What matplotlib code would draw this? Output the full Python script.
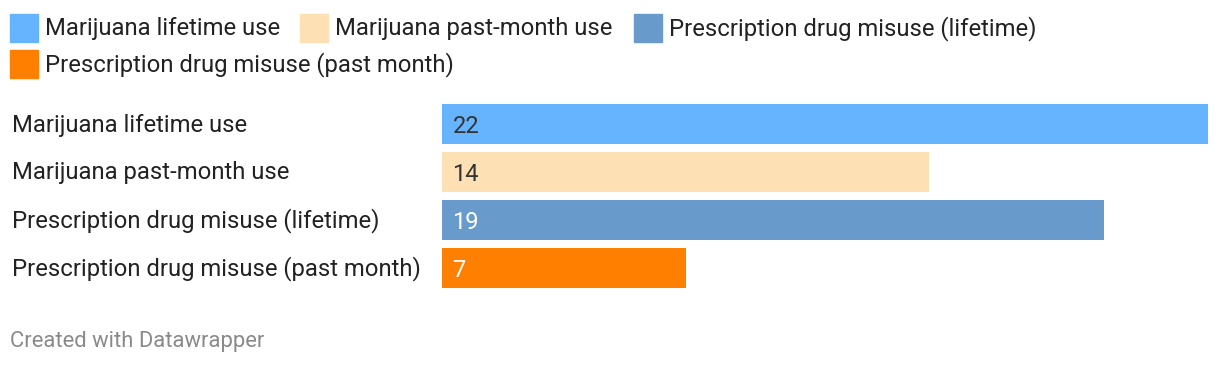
import matplotlib

matplotlib.use("Agg")
import matplotlib.pyplot as plt
from matplotlib.patches import Rectangle

plt.rcParams["font.family"] = ["Roboto", "DejaVu Sans"]

categories = [
    "Marijuana lifetime use",
    "Marijuana past-month use",
    "Prescription drug misuse (lifetime)",
    "Prescription drug misuse (past month)",
]
values = [22, 14, 19, 7]
colors = ["#66b4fe", "#fde1b4", "#689bcc", "#ff7f00"]
label_colors = ["#333333", "#333333", "#ffffff", "#ffffff"]

W, H = 1220, 366
fig = plt.figure(figsize=(W / 100, H / 100), dpi=100)
fig.patch.set_facecolor("white")


def fx(px):
    return px / W


def fy(py):
    return 1 - py / H


# bar axes: x 442..1208, y 104..288
ax = fig.add_axes([fx(442), fy(288), fx(1208 - 442), (288 - 104) / H])
ypos = list(range(len(categories)))
bar_h = 40 / 48
ax.barh(ypos, values, height=bar_h, color=colors)
ax.set_xlim(0, max(values))
ax.set_ylim(len(categories) - 1 + bar_h / 2, -bar_h / 2)
ax.axis("off")

for y, v, lc in zip(ypos, values, label_colors):
    ax.text(0.3, y, str(v), va="center_baseline", ha="left", fontsize=17, color=lc)

# category labels
for i, cat in enumerate(categories):
    fig.text(fx(12), fy(125 + 48 * i), cat, ha="left", va="center",
             fontsize=17.2, color="#222222")

# legend (square left edge, square top)
legend_pos = [(10, 14), (300, 14), (634, 14), (10, 50)]
for (lx, ly), cat, c in zip(legend_pos, categories, colors):
    fig.patches.append(Rectangle((fx(lx), fy(ly + 28)), fx(28), 28 / H,
                                 transform=fig.transFigure, color=c))
    fig.text(fx(lx + 35), fy(ly + 15), cat, ha="left", va="center",
             fontsize=17.2, color="#222222")

fig.text(fx(10), fy(341), "Created with Datawrapper", ha="left", va="center",
         fontsize=15.8, color="#8a8a8a")

fig.savefig("out.png", dpi=100)
